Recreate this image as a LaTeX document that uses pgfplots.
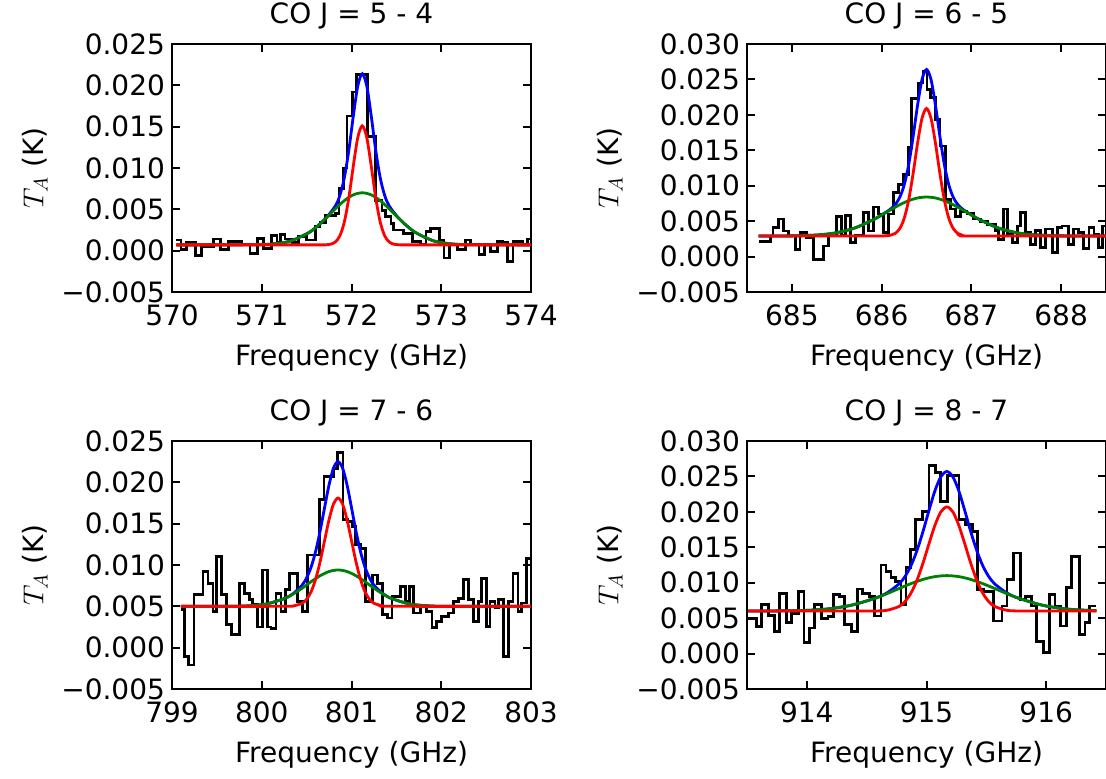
\documentclass[border=0pt]{standalone}
\usepackage{fontspec}
\setmainfont{DejaVu Sans}
\usepackage{pgfplots}
\pgfplotsset{compat=1.18}
\definecolor{mplgreen}{rgb}{0,0.5,0}
\pgfplotsset{
  panel/.style={
    scale only axis, width=179.5pt, height=124pt,
    tick align=inside, major tick length=4pt,
    axis line style={line width=1.3pt},
    every tick/.style={black, line width=1pt},
    font=\fontsize{14}{17}\selectfont,
    xlabel={Frequency (GHz)}, ylabel={$T_A$ (K)},
    scaled y ticks=false, scaled x ticks=false,
    xticklabel style={yshift=-3pt},
    xlabel style={yshift=-2pt},
    ylabel style={yshift=0pt},
    title style={yshift=-2pt},
    ymin=-0.005,
    anchor=south west,
  },
  y25/.style={ymax=0.025, ytick={-0.005,0,0.005,0.01,0.015,0.02,0.025},
    yticklabels={−0.005,0.000,0.005,0.010,0.015,0.020,0.025}},
  y30/.style={ymax=0.030, ytick={-0.005,0,0.005,0.01,0.015,0.02,0.025,0.03},
    yticklabels={−0.005,0.000,0.005,0.010,0.015,0.020,0.025,0.030}},
  dat/.style={black, line width=1.4pt, const plot, mark=none},
  fitb/.style={blue, line width=1.4pt, smooth, mark=none},
  fitg/.style={mplgreen, line width=1.4pt, smooth, mark=none},
  fitr/.style={red, line width=1.4pt, smooth, mark=none},
}
\begin{document}
\begin{tikzpicture}
\path[use as bounding box] (0,0) rectangle (553pt,389.5pt);
% ---------------- CO 5-4
\begin{axis}[panel, y25, at={(86pt,243.5pt)}, title={CO J = 5 - 4},
  xmin=570, xmax=574, xtick={570,571,572,573,574}, xticklabels={570,571,572,573,574}]
\addplot[dat] coordinates {
(570.05,0.0013)(570.10,0.0001)(570.16,0.0010)(570.26,-0.0006)(570.33,0.0005)(570.46,0.0014)
(570.54,0.0001)(570.63,0.0011)(570.78,0.0007)(570.87,-0.0003)(570.95,0.0015)(571.02,0.0003)
(571.11,0.0018)(571.17,0.0010)(571.21,0.0020)(571.26,0.0014)(571.34,0.0010)(571.41,0.0017)
(571.50,0.0013)(571.60,0.0029)(571.65,0.0034)(571.71,0.0043)(571.82,0.0045)(571.86,0.0075)
(571.91,0.0100)(571.95,0.0163)(572.01,0.0192)(572.06,0.0213)(572.18,0.0138)(572.27,0.0061)
(572.34,0.0049)(572.38,0.0041)(572.44,0.0033)(572.47,0.0025)(572.58,0.0021)(572.68,0.0011)
(572.77,0.0008)(572.83,0.0023)(572.88,0.0027)(572.98,0.0013)(573.03,-0.0009)(573.09,0.0007)
(573.18,0.0001)(573.27,0.0013)(573.33,0.0008)(573.42,-0.0005)(573.48,0.0007)(573.55,-0.0001)
(573.63,0.0011)(573.68,0.0010)(573.74,-0.0013)(573.80,0.0011)(573.91,0.0007)(573.96,0.0014)
(574.00,0.0014)};
\addplot[fitb] coordinates {
(570.05,0.0007)(570.92,0.00072)(571.12,0.00081)(571.32,0.00116)(571.52,0.00215)(571.62,0.00297)
(571.72,0.0040)(571.82,0.00541)(571.87,0.00667)(571.92,0.00881)(571.97,0.01213)(572.02,0.01628)
(572.07,0.01993)(572.12,0.0214)(572.17,0.01993)(572.22,0.01628)(572.27,0.01213)(572.32,0.00881)
(572.37,0.00667)(572.42,0.00541)(572.52,0.0040)(572.62,0.00297)(572.72,0.00215)(572.92,0.00116)
(573.12,0.00081)(573.32,0.00072)(574.0,0.0007)};
\addplot[fitg] coordinates {
(570.05,0.0007)(570.72,0.0007)(570.92,0.00072)(571.12,0.00081)(571.32,0.00116)(571.52,0.00215)
(571.62,0.00297)(571.72,0.00398)(571.82,0.00506)(571.92,0.00605)(572.02,0.00675)(572.12,0.0070)
(572.22,0.00675)(572.32,0.00605)(572.42,0.00506)(572.52,0.00398)(572.62,0.00297)(572.72,0.00215)
(572.92,0.00116)(573.12,0.00081)(573.32,0.00072)(573.52,0.0007)(574.0,0.0007)};
\addplot[fitr] coordinates {
(570.05,0.0007)(571.62,0.0007)(571.72,0.00072)(571.77,0.00079)(571.82,0.00105)(571.87,0.00179)
(571.92,0.00346)(571.97,0.00638)(572.02,0.01023)(572.07,0.01369)(572.12,0.0151)(572.17,0.01369)
(572.22,0.01023)(572.27,0.00638)(572.32,0.00346)(572.37,0.00179)(572.42,0.00105)(572.47,0.00079)
(572.52,0.00072)(572.62,0.0007)(574.0,0.0007)};
\end{axis}
% ---------------- CO 6-5
\begin{axis}[panel, y30, at={(373.5pt,243.5pt)}, title={CO J = 6 - 5},
  xmin=684.5, xmax=688.5, xtick={685,686,687,688}, xticklabels={685,686,687,688}]
\addplot[dat] coordinates {
(684.63,0.0021)(684.76,0.0029)(684.79,0.0041)(684.85,0.0053)(684.905,0.0036)(684.96,0.0029)
(685.036,0.0010)(685.09,0.0034)(685.166,0.0027)(685.24,-0.0004)(685.35,0.0015)(685.41,0.0029)
(685.50,0.0057)(685.557,0.0030)(685.594,0.0058)(685.65,0.0020)(685.705,0.0030)(685.80,0.0062)
(685.854,0.0036)(685.91,0.0070)(685.965,0.0060)(686.02,0.0034)(686.077,0.0060)(686.133,0.0090)
(686.19,0.0102)(686.244,0.0116)(686.30,0.0154)(686.33,0.0223)(686.41,0.0245)(686.46,0.0261)
(686.505,0.0236)(686.54,0.0224)(686.60,0.0193)(686.65,0.0156)(686.71,0.0081)(686.766,0.0067)
(686.82,0.0057)(686.877,0.0064)(686.95,0.0061)(687.026,0.0053)(687.10,0.0049)(687.175,0.0045)
(687.268,0.0037)(687.305,0.0024)(687.36,0.0067)(687.40,0.0031)(687.454,0.0020)(687.51,0.0043)
(687.547,0.0062)(687.60,0.0034)(687.66,0.0017)(687.714,0.0037)(687.77,0.0013)(687.826,0.0039)
(687.90,0.0006)(687.956,0.0041)(688.01,0.0043)(688.086,0.0017)(688.14,0.0039)(688.197,0.0034)
(688.253,0.0011)(688.31,0.0041)(688.365,0.0031)(688.42,0.0013)(688.46,0.0043)(688.50,0.0043)};
\addplot[fitb] coordinates {
(684.63,0.0029)(685.0,0.00292)(685.3,0.00306)(685.5,0.00337)(685.7,0.00403)(685.9,0.00516)
(686.0,0.00587)(686.1,0.00671)(686.15,0.00732)(686.2,0.00831)(686.25,0.01005)(686.3,0.01288)
(686.35,0.01686)(686.4,0.02134)(686.45,0.02499)(686.5,0.0264)(686.55,0.02499)(686.6,0.02134)
(686.65,0.01686)(686.7,0.01288)(686.75,0.01005)(686.8,0.00831)(686.85,0.00732)(686.9,0.00671)
(687.0,0.00587)(687.1,0.00516)(687.3,0.00403)(687.5,0.00337)(687.7,0.00306)(688.0,0.00292)(688.5,0.0029)};
\addplot[fitg] coordinates {
(684.63,0.0029)(685.0,0.00292)(685.3,0.00306)(685.5,0.00337)(685.7,0.00403)(685.9,0.00516)
(686.0,0.00587)(686.1,0.0066)(686.2,0.0073)(686.3,0.00788)(686.4,0.00827)(686.5,0.0084)
(686.6,0.00827)(686.7,0.00788)(686.8,0.0073)(686.9,0.0066)(687.0,0.00587)(687.1,0.00516)
(687.3,0.00403)(687.5,0.00337)(687.7,0.00306)(688.0,0.00292)(688.5,0.0029)};
\addplot[fitr] coordinates {
(684.63,0.0029)(685.9,0.0029)(686.0,0.0029)(686.1,0.00301)(686.15,0.00326)(686.2,0.00391)
(686.25,0.00534)(686.3,0.0079)(686.35,0.01166)(686.4,0.01597)(686.45,0.01952)(686.5,0.0209)
(686.55,0.01952)(686.6,0.01597)(686.65,0.01166)(686.7,0.0079)(686.75,0.00534)(686.8,0.00391)
(686.85,0.00326)(686.9,0.00301)(687.0,0.0029)(688.5,0.0029)};
\end{axis}
% ---------------- CO 7-6
\begin{axis}[panel, y25, at={(86pt,45pt)}, title={CO J = 7 - 6},
  xmin=799, xmax=803, xtick={799,800,801,802,803}, xticklabels={799,800,801,802,803}]
\addplot[dat] coordinates {
(799.098,0.0046)(799.142,-0.0011)(799.18,-0.0021)(799.246,0.0064)(799.346,0.0092)(799.40,0.0078)
(799.457,0.0044)(799.493,0.0110)(799.549,0.0064)(799.604,0.0028)(799.66,0.0016)(799.752,0.0078)
(799.807,0.0066)(799.863,0.0058)(799.90,0.0052)(799.955,0.0025)(800.011,0.0094)(800.066,0.0025)
(800.103,0.0023)(800.158,0.0066)(800.214,0.0044)(800.269,0.0070)(800.306,0.0090)(800.399,0.0056)
(800.454,0.0044)(800.51,0.0112)(800.639,0.0179)(800.694,0.0207)(800.805,0.0217)(800.843,0.0236)
(800.905,0.0155)(800.953,0.0153)(801.009,0.0147)(801.045,0.0125)(801.10,0.0120)(801.156,0.0056)
(801.23,0.0088)(801.286,0.0078)(801.341,0.0040)(801.397,0.0036)(801.452,0.0062)(801.544,0.0074)
(801.60,0.0056)(801.647,0.0074)(801.692,0.0042)(801.766,0.0050)(801.84,0.0044)(801.896,0.0024)
(801.951,0.0032)(802.007,0.0038)(802.08,0.0042)(802.135,0.0056)(802.19,0.0059)(802.246,0.0082)
(802.302,0.0058)(802.357,0.0032)(802.412,0.0056)(802.45,0.0084)(802.505,0.0026)(802.542,0.0056)
(802.598,0.0048)(802.634,0.0058)(802.69,-0.0011)(802.745,0.0056)(802.80,0.0090)(802.856,0.0044)
(802.893,0.0054)(802.949,0.0108)(803.0,0.0108)};
\addplot[fitb] coordinates {
(799.1,0.005)(799.65,0.00501)(799.85,0.00506)(800.05,0.00528)(800.25,0.00593)(800.35,0.00654)
(800.45,0.00757)(800.5,0.00845)(800.55,0.00975)(800.6,0.01163)(800.65,0.01409)(800.7,0.01694)
(800.75,0.0197)(800.8,0.02174)(800.85,0.0225)(800.9,0.02174)(800.95,0.0197)(801.0,0.01694)
(801.05,0.01409)(801.1,0.01163)(801.15,0.00975)(801.2,0.00845)(801.25,0.00757)(801.35,0.00654)
(801.45,0.00593)(801.65,0.00528)(801.85,0.00506)(802.05,0.00501)(803.0,0.005)};
\addplot[fitg] coordinates {
(799.1,0.005)(799.65,0.00501)(799.85,0.00506)(800.05,0.00528)(800.25,0.00593)(800.35,0.00649)
(800.45,0.0072)(800.55,0.00798)(800.65,0.0087)(800.75,0.00921)(800.85,0.0094)(800.95,0.00921)
(801.05,0.0087)(801.15,0.00798)(801.25,0.0072)(801.35,0.00649)(801.45,0.00593)(801.65,0.00528)
(801.85,0.00506)(802.05,0.00501)(803.0,0.005)};
\addplot[fitr] coordinates {
(799.1,0.005)(800.25,0.005)(800.35,0.00505)(800.45,0.00537)(800.5,0.00586)(800.55,0.00677)
(800.6,0.00827)(800.65,0.01039)(800.7,0.01295)(800.75,0.01549)(800.8,0.01739)(800.85,0.0181)
(800.9,0.01739)(800.95,0.01549)(801.0,0.01295)(801.05,0.01039)(801.1,0.00827)(801.15,0.00677)
(801.2,0.00586)(801.25,0.00537)(801.35,0.00505)(801.45,0.005)(803.0,0.005)};
\end{axis}
% ---------------- CO 8-7
\begin{axis}[panel, y30, at={(373.5pt,45pt)}, title={CO J = 8 - 7},
  xmin=913.5, xmax=916.5, xtick={914,915,916}, xticklabels={914,915,916}]
\addplot[dat] coordinates {
(913.51,0.0050)(913.58,0.0038)(913.622,0.0069)(913.677,0.0054)(913.727,0.0031)(913.774,0.0085)
(913.83,0.0044)(913.872,0.0057)(913.927,0.0088)(913.977,0.0016)(914.024,0.0036)(914.065,0.0069)
(914.12,0.0050)(914.176,0.0052)(914.226,0.0083)(914.273,0.0080)(914.315,0.0041)(914.37,0.0031)
(914.425,0.0091)(914.467,0.0085)(914.522,0.0080)(914.564,0.0053)(914.62,0.0125)(914.661,0.0116)
(914.703,0.0107)(914.744,0.0102)(914.786,0.0069)(914.828,0.0121)(914.869,0.0147)(914.911,0.0189)
(914.966,0.0200)(915.021,0.0265)(915.077,0.0255)(915.118,0.0215)(915.173,0.0251)(915.271,0.0189)
(915.326,0.0182)(915.381,0.0172)(915.423,0.0090)(915.478,0.0088)(915.561,0.0046)(915.631,0.0067)
(915.672,0.0104)(915.728,0.0142)(915.784,0.0076)(915.825,0.0080)(915.88,0.0067)(915.921,0.0017)
(915.977,0.0001)(916.027,0.0083)(916.074,0.0067)(916.121,0.0039)(916.171,0.0093)(916.212,0.0137)
(916.276,0.0027)(916.324,0.0044)(916.365,0.0067)(916.42,0.0067)};
\addplot[fitb] coordinates {
(913.51,0.006)(913.67,0.00601)(913.97,0.00608)(914.17,0.00629)(914.37,0.00682)(914.57,0.00781)
(914.67,0.00857)(914.77,0.00983)(914.82,0.01087)(914.87,0.0124)(914.92,0.01453)(914.97,0.01719)
(915.02,0.02016)(915.07,0.02295)(915.12,0.02496)(915.17,0.0257)(915.22,0.02496)(915.27,0.02295)
(915.32,0.02016)(915.37,0.01719)(915.42,0.01453)(915.47,0.0124)(915.52,0.01087)(915.57,0.00983)
(915.67,0.00857)(915.77,0.00781)(915.97,0.00682)(916.17,0.00629)(916.37,0.00608)(916.42,0.00606)};
\addplot[fitg] coordinates {
(913.51,0.006)(913.67,0.00601)(913.97,0.00608)(914.17,0.00629)(914.37,0.00682)(914.57,0.0078)
(914.67,0.00846)(914.77,0.00918)(914.87,0.00987)(914.97,0.01046)(915.07,0.01086)(915.17,0.0110)
(915.27,0.01086)(915.37,0.01046)(915.47,0.00987)(915.57,0.00918)(915.67,0.00846)(915.77,0.0078)
(915.97,0.00682)(916.17,0.00629)(916.37,0.00608)(916.42,0.00606)};
\addplot[fitr] coordinates {
(913.51,0.006)(914.47,0.006)(914.57,0.00601)(914.67,0.00611)(914.77,0.00665)(914.82,0.00734)
(914.87,0.00853)(914.92,0.01034)(914.97,0.01273)(915.02,0.01547)(915.07,0.01809)(915.12,0.0200)
(915.17,0.0207)(915.22,0.0200)(915.27,0.01809)(915.32,0.01547)(915.37,0.01273)(915.42,0.01034)
(915.47,0.00853)(915.52,0.00734)(915.57,0.00665)(915.67,0.00611)(915.77,0.00601)(915.87,0.006)
(916.42,0.006)};
\end{axis}
\end{tikzpicture}
\end{document}
